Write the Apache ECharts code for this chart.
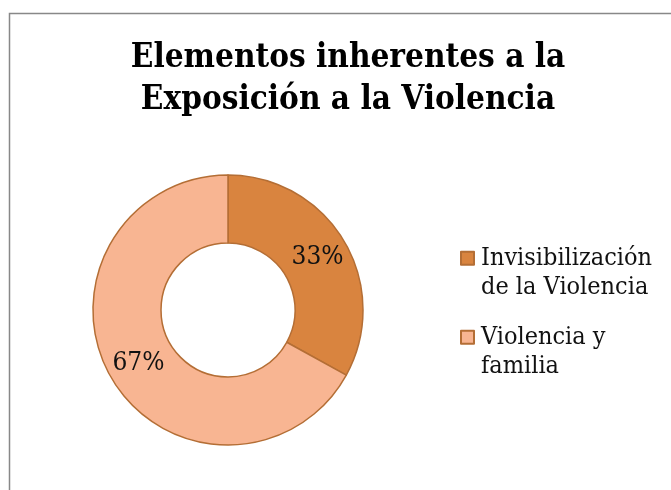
<!DOCTYPE html>
<html>
<head>
<meta charset="utf-8">
<script src="https://cdn.jsdelivr.net/npm/echarts@6/dist/echarts.min.js"></script>
<style>html,body{margin:0;padding:0;background:#fff}#c{width:671px;height:490px}</style>
</head>
<body>
<div id="c"></div>
<script>
const titleText = 'Elementos inherentes a la\nExposición a la Violencia';
const categories = ['Invisibilización de la Violencia', 'Violencia y familia'];
const legendLabels = ['Invisibilización\nde la Violencia', 'Violencia y\nfamilia'];
const values = [33, 67];
const colors = ['#D9843F', '#F8B592'];

const chart = echarts.init(document.getElementById('c'), null, {renderer: 'canvas'});
const labelMap = {};
categories.forEach((c, i) => labelMap[c] = '\n' + legendLabels[i]);

const legendBase = {
  orient: 'vertical',
  left: 460,
  icon: 'rect', itemWidth: 13, itemHeight: 13, itemGap: 0, padding: 0,
  formatter: n => labelMap[n],
  textStyle: {fontFamily: 'DejaVu Serif Condensed', fontSize: 25, lineHeight: 29.5, color: '#111', padding: [0, 0, 0, 2]}
};

chart.setOption({
  animation: false,
  backgroundColor: '#fff',
  graphic: [{
    type: 'rect', left: 7, top: 11, z: -1,
    shape: {x: 0, y: 0, width: 700, height: 600},
    style: {fill: 'none', stroke: '#888', lineWidth: 1.5}
  }],
  title: {
    text: titleText,
    left: 343, top: 32, textAlign: 'center',
    textStyle: {fontFamily: 'DejaVu Serif Condensed', fontWeight: 'bold', fontSize: 33, lineHeight: 42, color: '#000'}
  },
  legend: [
    Object.assign({}, legendBase, {top: 258 - 44, data: [categories[0]]}),
    Object.assign({}, legendBase, {top: 337 - 44, data: [categories[1]]})
  ],
  series: [{
    type: 'pie',
    center: [228, 310],
    radius: [67, 135],
    startAngle: 90,
    clockwise: true,
    itemStyle: {borderColor: '#B46E35', borderWidth: 1.5},
    label: {
      position: 'inside',
      formatter: p => Math.round(p.percent) + '%',
      fontFamily: 'DejaVu Serif Condensed', fontSize: 26, color: '#111'
    },
    labelLine: {show: false},
    data: categories.map((c, i) => ({name: c, value: values[i], itemStyle: {color: colors[i]}}))
  }]
});
</script>
</body>
</html>
